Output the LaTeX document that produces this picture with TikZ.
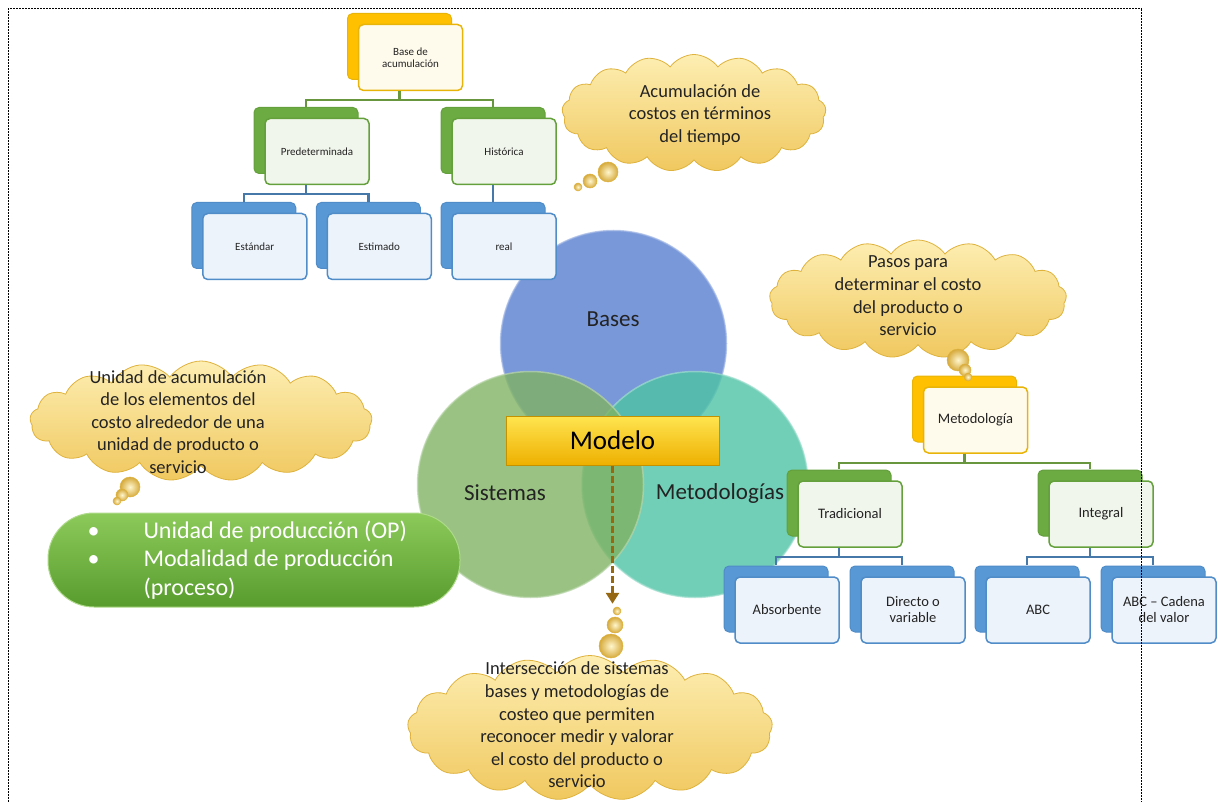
\documentclass[tikz,border=0pt]{standalone}
\usepackage{fontspec}
\setmainfont{Carlito}
\usetikzlibrary{shapes.symbols,shadows,arrows.meta}

\definecolor{basesblue}{RGB}{88,126,208}
\definecolor{sistgreen}{RGB}{128,179,100}
\definecolor{metteal}{RGB}{78,195,165}
\definecolor{goldtop}{RGB}{255,228,80}
\definecolor{goldbot}{RGB}{238,176,0}
\definecolor{goldline}{RGB}{196,146,0}
\definecolor{ycream}{RGB}{255,251,236}
\definecolor{yback}{RGB}{255,192,0}
\definecolor{yline}{RGB}{232,180,10}
\definecolor{gcream}{RGB}{241,246,236}
\definecolor{gback}{RGB}{108,170,66}
\definecolor{gline}{RGB}{100,160,60}
\definecolor{bcream}{RGB}{237,243,251}
\definecolor{bback}{RGB}{88,152,212}
\definecolor{bline}{RGB}{80,140,200}
\definecolor{glink}{RGB}{104,150,62}
\definecolor{blink}{RGB}{70,120,170}
\definecolor{cloudtop}{RGB}{253,238,178}
\definecolor{cloudbot}{RGB}{240,200,95}
\definecolor{cloudline}{RGB}{222,178,60}
\definecolor{bubblein}{RGB}{255,246,205}
\definecolor{bubbleout}{RGB}{214,170,60}
\definecolor{pilltop}{RGB}{140,202,90}
\definecolor{pillbot}{RGB}{88,156,46}
\definecolor{arrowbrown}{RGB}{150,104,18}
\definecolor{txt}{RGB}{35,35,35}

\begin{document}
\begin{tikzpicture}[x=1pt,y=-1pt,
  venn/.style={circle,minimum size=226pt,fill=#1,draw=#1!55!white,line width=1.5pt,fill opacity=0.8,draw opacity=0.7},
  vennlabel/.style={text=txt,font=\fontsize{23}{27}\selectfont},
  modelo/.style={rectangle,minimum width=213pt,minimum height=49pt,top color=goldtop,bottom color=goldbot,draw=goldline,line width=1pt,font=\fontsize{27}{30}\selectfont},
  box/.style={rectangle,rounded corners=5pt,minimum width=104pt,minimum height=66pt,inner sep=2pt,line width=1.5pt,align=center,text=txt},
  ybox/.style={box,fill=ycream,draw=yline,copy shadow={shadow xshift=-11pt,shadow yshift=11pt,fill=yback,draw=yline,line width=1pt}},
  gbox/.style={box,fill=gcream,draw=gline,copy shadow={shadow xshift=-11pt,shadow yshift=11pt,fill=gback,draw=gline,line width=1pt}},
  bbox/.style={box,fill=bcream,draw=bline,copy shadow={shadow xshift=-11pt,shadow yshift=11pt,fill=bback,draw=bline,line width=1pt}},
  thought/.style={cloud,cloud puffs=17,cloud puff arc=110,cloud ignores aspect,inner sep=0pt,draw=cloudline,line width=0.8pt,top color=cloudtop,bottom color=cloudbot},
  bubble/.style={circle,inner sep=0pt,inner color=bubblein,outer color=bubbleout,draw=cloudline,line width=0.5pt},
  cloudtext/.style={align=center,text=txt,font=\fontsize{18.5}{22.6}\selectfont},
  pill/.style={rectangle,rounded corners=46pt,minimum width=412pt,minimum height=94pt,top color=pilltop,bottom color=pillbot,draw=pilltop!70!white,line width=1pt},
  pilltext/.style={align=left,text=white,font=\fontsize{24}{28.5}\selectfont},
  dasharrow/.style={draw=arrowbrown,line width=3pt,dash pattern=on 7pt off 3pt,-{Triangle[width=13pt,length=11pt]},shorten >=3pt},
  frame/.style={line width=1pt,dash pattern=on 2pt off 1pt}]
\useasboundingbox (0,0) rectangle (1218,802);

% venn
\node[venn=basesblue] (cbases) at (613.5,343.5) {};
\node[venn=metteal] (cmet) at (695,484.5) {};
\node[venn=sistgreen] (csist) at (530.5,484.5) {};
\node[vennlabel] (lbases) at (613,319) {Bases};
\node[vennlabel] (lsist) at (505,493) {Sistemas};
\node[vennlabel] (lmet) at (720,493) {Metodologías};
\node[modelo] (modelo) at (612.5,440.5) {Modelo};

\node[pill] (pill) at (254,560) {};
\node[pilltext,anchor=west] (pilltxt) at (84,560) {\makebox[56pt][l]{\textbullet}Unidad de producción (OP)\\
  \makebox[56pt][l]{\textbullet}Modalidad de producción\\
  \hspace*{56pt}(proceso)};

% bases
\begin{scope}[every node/.append style={font=\fontsize{11}{12}\selectfont},
    edge from parent path={([xshift=-11pt]\tikzparentnode.south) -- ++(0pt,-9pt) -| ([shift={(-11pt,11pt)}]\tikzchildnode.north)},
    level 1/.style={sibling distance=187pt,level distance=94pt,edge from parent/.style={draw=glink,line width=2.5pt}},
    level 2/.style={sibling distance=124.5pt,level distance=95pt,edge from parent/.style={draw=blink,line width=2.5pt}}]
\node[ybox] (base) at (410.5,57.5) {Base de\\acumulación}
    child{node[gbox] (pred) {Predeterminada}
        child{node[bbox] (estandar) {Estándar}}
        child{node[bbox] (estimado) {Estimado}}}
    child{node[gbox] (hist) {Histórica}
        child{node[bbox] (real) {real}}};
\end{scope}

% metodologias
\begin{scope}[every node/.append style={font=\fontsize{14.5}{16}\selectfont},
    edge from parent path={([xshift=-11pt]\tikzparentnode.south) -- ++(0pt,-9pt) -| ([shift={(-11pt,11pt)}]\tikzchildnode.north)},
    level 1/.style={sibling distance=251pt,level distance=94pt,edge from parent/.style={draw=glink,line width=2.5pt}},
    level 2/.style={sibling distance=126pt,level distance=96pt,edge from parent/.style={draw=blink,line width=2.5pt}}]
\node[ybox] (metod) at (975.5,420) {Metodología}
    child{node[gbox] (trad) {Tradicional}
        child{node[bbox] (absor) {Absorbente}}
        child{node[bbox] (directo) {Directo o\\variable}}}
    child{node[gbox] (integ) {Integral}
        child{node[bbox] (abc) {ABC}}
        child{node[bbox] (abcvalor) {ABC – Cadena\\del valor}}};
\end{scope}

% clouds
\node[thought,minimum width=264pt,minimum height=117pt] (cltiempo) at (694,113) {};
\node[cloudtext] (txtiempo) at (700,115) {Acumulación de\\costos en términos\\del tiempo};
\node[bubble,minimum size=20pt] (tb1) at (608,172) {};
\node[bubble,minimum size=14pt] (tb2) at (590,181) {};
\node[bubble,minimum size=8pt] (tb3) at (578,187) {};

\node[thought,minimum width=297pt,minimum height=118pt] (clpasos) at (918,299) {};
\node[cloudtext] (txpasos) at (908,296) {Pasos para\\determinar el costo\\del producto o\\servicio};
\node[bubble,minimum size=22pt] (pb1) at (958,360) {};
\node[bubble,minimum size=12pt] (pb2) at (965,370) {};
\node[bubble,minimum size=8pt] (pb3) at (968,377) {};

\node[thought,minimum width=342pt,minimum height=120pt] (clunidad) at (201,421) {};
\node[cloudtext] (txunidad) at (178,422) {Unidad de acumulación\\de los elementos del\\costo alrededor de una\\unidad de producto o\\servicio};
\node[bubble,minimum size=20pt] (ub1) at (130,487) {};
\node[bubble,minimum size=12pt] (ub2) at (122,495) {};
\node[bubble,minimum size=8pt] (ub3) at (117,501) {};

\node[thought,minimum width=365pt,minimum height=145pt] (clinter) at (590,728) {};
\node[cloudtext] (txinter) at (577,725) {Intersección de sistemas\\bases y metodologías de\\costeo que permiten\\reconocer medir y valorar\\el costo del producto o\\servicio};
\node[bubble,minimum size=8pt] (ib1) at (617,611) {};
\node[bubble,minimum size=16pt] (ib2) at (615,625) {};
\node[bubble,minimum size=24pt] (ib3) at (611,646) {};

\draw[dasharrow] (modelo.south) -- (modelo.south |- ib1.north);

\draw[frame] (8,802) -- (8,9) -- (1141,9) -- (1141,802);
\end{tikzpicture}
\end{document}
